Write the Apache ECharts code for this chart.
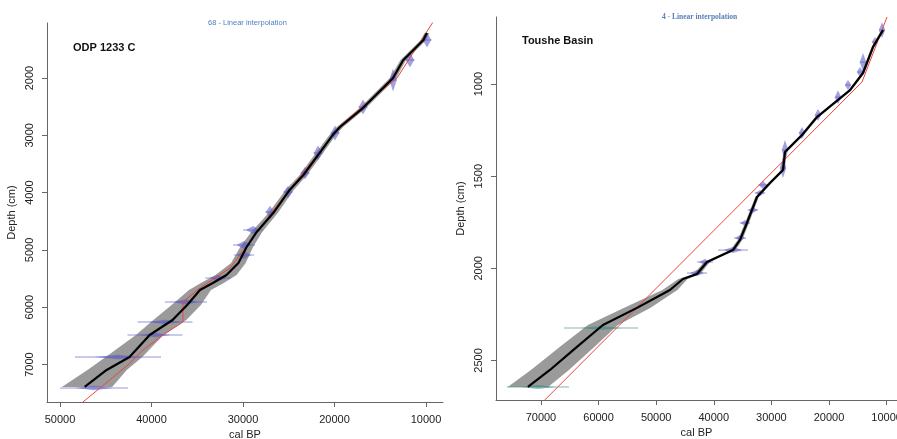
<!DOCTYPE html>
<html>
<head>
<meta charset="utf-8">
<script src="https://cdn.jsdelivr.net/npm/echarts@6/dist/echarts.min.js"></script>
<style>
html, body { margin: 0; padding: 0; background: #fff; }
#main { width: 897px; height: 439px; }
</style>
</head>
<body>
<div id="main"></div>
<script>
// ---- ODP 1233 C (left panel) ----
const odpDepth = [1215, 1340, 1690, 2000, 2524, 2855, 2995, 3344, 3693, 3954, 4356, 4687, 4949, 5228, 5438, 5577, 5699, 5961, 6223, 6485, 6869, 7095, 7392];
const odpAge   = [9900, 10300, 12500, 13600, 16900, 19400, 20200, 21800, 23400, 24900, 26700, 28500, 29600, 30500, 31800, 33300, 34700, 36100, 37700, 40200, 42400, 44900, 47300];
const odpOld   = [10150, 10600, 12800, 13950, 17250, 19750, 20550, 22200, 23800, 25350, 27200, 29100, 30300, 31300, 33000, 34600, 35900, 37800, 39800, 41700, 45000, 47000, 49800];
const odpYoung = [9650, 10000, 12200, 13250, 16550, 19050, 19850, 21400, 23000, 24450, 26200, 27900, 28900, 29700, 30700, 32100, 33500, 34600, 36200, 38700, 41000, 42700, 44300];
const odpRedAge   = [9230, 13170, 16880, 19400, 23440, 26720, 29560, 31420, 34700, 36560, 36560, 38740, 40930, 42570, 47490];
const odpRedDepth = [1023, 2000, 2489, 2838, 3658, 4321, 4932, 5316, 5665, 5909, 6258, 6485, 6746, 7008, 7654];
const odpDateAge      = [9890, 11750, 13600, 16880, 19940, 21800, 23220, 25080, 27050, 28900, 29890, 29890, 32730, 36230, 38520, 39620, 43660, 46280];
const odpDateDepth    = [1337, 1686, 2035, 2506, 2960, 3309, 3658, 3989, 4338, 4652, 4914, 5089, 5490, 5909, 6258, 6485, 6869, 7410];
const odpDateAgeErr   = [500, 500, 400, 500, 500, 500, 500, 500, 500, 1100, 1200, 1100, 1400, 2300, 3000, 3000, 4700, 3700];
const odpDateDepthErr = [130, 130, 200, 130, 130, 130, 110, 110, 110, 70, 70, 70, 55, 50, 40, 40, 40, 40];
const odpAgeTicks = [10000, 20000, 30000, 40000, 50000];
const odpDepthTicks = [2000, 3000, 4000, 5000, 6000, 7000];

// ---- Toushe Basin (right panel) ----
const tshDepth = [707, 799, 940, 1033, 1179, 1277, 1369, 1467, 1537, 1613, 1754, 1846, 1901, 1966, 2031, 2058, 2118, 2215, 2308, 2427, 2552, 2644];
const tshAge   = [10630, 12370, 14100, 16360, 22090, 24690, 27640, 27990, 30250, 32500, 34240, 35450, 36670, 41180, 42920, 45350, 47610, 53330, 59240, 63750, 68440, 72260];
const tshOld   = [10880, 12620, 14350, 16610, 22390, 24990, 27940, 28290, 30550, 32800, 34590, 35850, 37120, 41680, 43520, 46150, 48910, 55630, 61840, 66750, 71740, 75760];
const tshYoung = [10380, 12120, 13850, 16110, 21790, 24390, 27340, 27690, 29950, 32200, 33890, 35050, 36220, 40680, 42320, 44550, 46310, 51030, 56640, 60750, 65140, 68760];
const tshRedAge   = [9935, 14270, 69650];
const tshRedDepth = [636, 989, 2725];
const tshDateAge      = [10800, 12020, 14100, 14620, 16700, 18440, 21910, 24690, 27640, 27990, 31460, 31980, 33200, 34590, 35450, 36670, 41530, 42920];
const tshDateDepth    = [707, 772, 881, 935, 1005, 1071, 1168, 1266, 1358, 1456, 1548, 1591, 1684, 1754, 1836, 1901, 1966, 2026];
const tshDateAgeErr   = [450, 450, 450, 450, 450, 450, 450, 450, 450, 450, 800, 900, 900, 900, 1040, 2600, 1390, 1740];
const tshDateDepthErr = [43, 27, 49, 27, 27, 38, 33, 33, 54, 54, 22, 16, 16, 16, 16, 16, 16, 16];
const tshTealAge      = [59580, 70520];
const tshTealDepth    = [2324, 2644];
const tshTealAgeErr   = [6420, 5380];
const tshTealDepthErr = [11, 11];
const tshAgeTicks = [10000, 20000, 30000, 40000, 50000, 60000, 70000];
const tshDepthTicks = [1000, 1500, 2000, 2500];

const FONT = 'Liberation Sans, Arial, sans-serif';

function zip(a, b) { return a.map((v, i) => [v, b[i]]); }

function bandSeries(idx, depth, old, young) {
    return {
        type: 'custom', xAxisIndex: idx, yAxisIndex: idx, clip: true, silent: true,
        data: [[old[0], depth[0]]],
        renderItem: function (params, api) {
            const pts = [];
            for (let i = 0; i < depth.length; i++) pts.push(api.coord([old[i], depth[i]]));
            for (let i = depth.length - 1; i >= 0; i--) pts.push(api.coord([young[i], depth[i]]));
            return { type: 'polygon', shape: { points: pts }, style: { fill: 'rgba(125,125,125,0.78)' } };
        }
    };
}

function dateSeries(idx, age, depth, ageErr, depthErr, fill, stroke) {
    return {
        type: 'custom', xAxisIndex: idx, yAxisIndex: idx, clip: true, silent: true,
        encode: { x: 0, y: 1 },
        data: age.map((a, i) => [a, depth[i], ageErr[i], depthErr[i]]),
        renderItem: function (params, api) {
            const a = api.value(0), d = api.value(1), ae = api.value(2), de = api.value(3);
            const l = api.coord([a + ae, d]);
            const r = api.coord([a - ae, d]);
            const c = api.coord([a, d]);
            const t = api.coord([a, d - de]);
            const b = api.coord([a, d + de]);
            const hw = Math.abs(r[0] - l[0]) / 4 + 2;
            return {
                type: 'group', children: [
                    { type: 'line', shape: { x1: l[0], y1: l[1], x2: r[0], y2: r[1] }, style: { stroke: stroke, lineWidth: 1.5 } },
                    { type: 'polygon', shape: { points: [[c[0] - hw, c[1]], t, [c[0] + hw, c[1]], b] }, style: { fill: fill } }
                ]
            };
        }
    };
}

function lineSeries(idx, age, depth, color, width) {
    return {
        type: 'line', xAxisIndex: idx, yAxisIndex: idx, data: zip(age, depth),
        showSymbol: false, silent: true, animation: false,
        lineStyle: { color: color, width: width }
    };
}

function ageAxis(idx, min, max, ticks) {
    return {
        type: 'value', gridIndex: idx, min: min, max: max, inverse: true,
        name: 'cal BP', nameLocation: 'middle', nameGap: 25,
        nameTextStyle: { color: '#222', fontSize: 11, fontFamily: FONT },
        axisLine: { show: true, onZero: false, lineStyle: { color: '#666' } },
        axisTick: { show: true, length: 5, customValues: ticks, lineStyle: { color: '#666' } },
        axisLabel: { customValues: ticks, margin: 12, color: '#222', fontSize: 11, fontFamily: FONT, formatter: v => String(v) },
        splitLine: { show: false }
    };
}

function depthAxis(idx, min, max, ticks) {
    return {
        type: 'value', gridIndex: idx, min: min, max: max, inverse: true,
        name: 'Depth (cm)', nameLocation: 'middle', nameGap: 30,
        nameTextStyle: { color: '#222', fontSize: 11, fontFamily: FONT },
        axisLine: { show: true, onZero: false, lineStyle: { color: '#666' } },
        axisTick: { show: true, length: 5, customValues: ticks, lineStyle: { color: '#666' } },
        axisLabel: { customValues: ticks, rotate: 90, margin: 12, color: '#222', fontSize: 11, fontFamily: FONT, formatter: v => String(v) },
        splitLine: { show: false }
    };
}

const chart = echarts.init(document.getElementById('main'), null, { renderer: 'canvas' });
chart.setOption({
    animation: false,
    backgroundColor: '#fff',
    title: [
        { text: 'ODP 1233 C', left: 68, top: 37, textStyle: { fontSize: 11, fontWeight: 'bold', color: '#111', fontFamily: FONT } },
        { text: 'Toushe Basin', left: 517, top: 30, textStyle: { fontSize: 11, fontWeight: 'bold', color: '#111', fontFamily: FONT } },
        { text: '68 - Linear interpolation', left: 203, top: 14, textStyle: { fontSize: 7.5, fontWeight: 'normal', color: '#4f7ec4', fontFamily: FONT } },
        { text: '4 - Linear interpolation', left: 657, top: 8, textStyle: { fontSize: 7.5, fontWeight: 'bold', color: '#5a80b8', fontFamily: 'Liberation Serif, serif' } }
    ],
    grid: [
        { left: 47, top: 23, width: 396, height: 379, outerBoundsMode: 'none', containLabel: false },
        { left: 496, top: 17, width: 401, height: 383, outerBoundsMode: 'none', containLabel: false }
    ],
    xAxis: [
        ageAxis(0, 8140, 51420, odpAgeTicks),
        ageAxis(1, 8200, 77800, tshAgeTicks)
    ],
    yAxis: [
        depthAxis(0, 1040, 7654, odpDepthTicks),
        depthAxis(1, 636, 2715, tshDepthTicks)
    ],
    series: [
        bandSeries(0, odpDepth, odpOld, odpYoung),
        lineSeries(0, odpRedAge, odpRedDepth, '#e8473f', 1),
        dateSeries(0, odpDateAge, odpDateDepth, odpDateAgeErr, odpDateDepthErr, 'rgba(85,85,200,0.55)', 'rgba(100,100,200,0.45)'),
        lineSeries(0, odpAge, odpDepth, '#000', 2.2),

        bandSeries(1, tshDepth, tshOld, tshYoung),
        lineSeries(1, tshRedAge, tshRedDepth, '#e8473f', 1),
        dateSeries(1, tshDateAge, tshDateDepth, tshDateAgeErr, tshDateDepthErr, 'rgba(85,85,200,0.55)', 'rgba(100,100,200,0.45)'),
        dateSeries(1, tshTealAge, tshTealDepth, tshTealAgeErr, tshTealDepthErr, 'rgba(60,140,130,0.55)', 'rgba(70,150,140,0.45)'),
        lineSeries(1, tshAge, tshDepth, '#000', 2.2)
    ]
});
</script>
</body>
</html>
